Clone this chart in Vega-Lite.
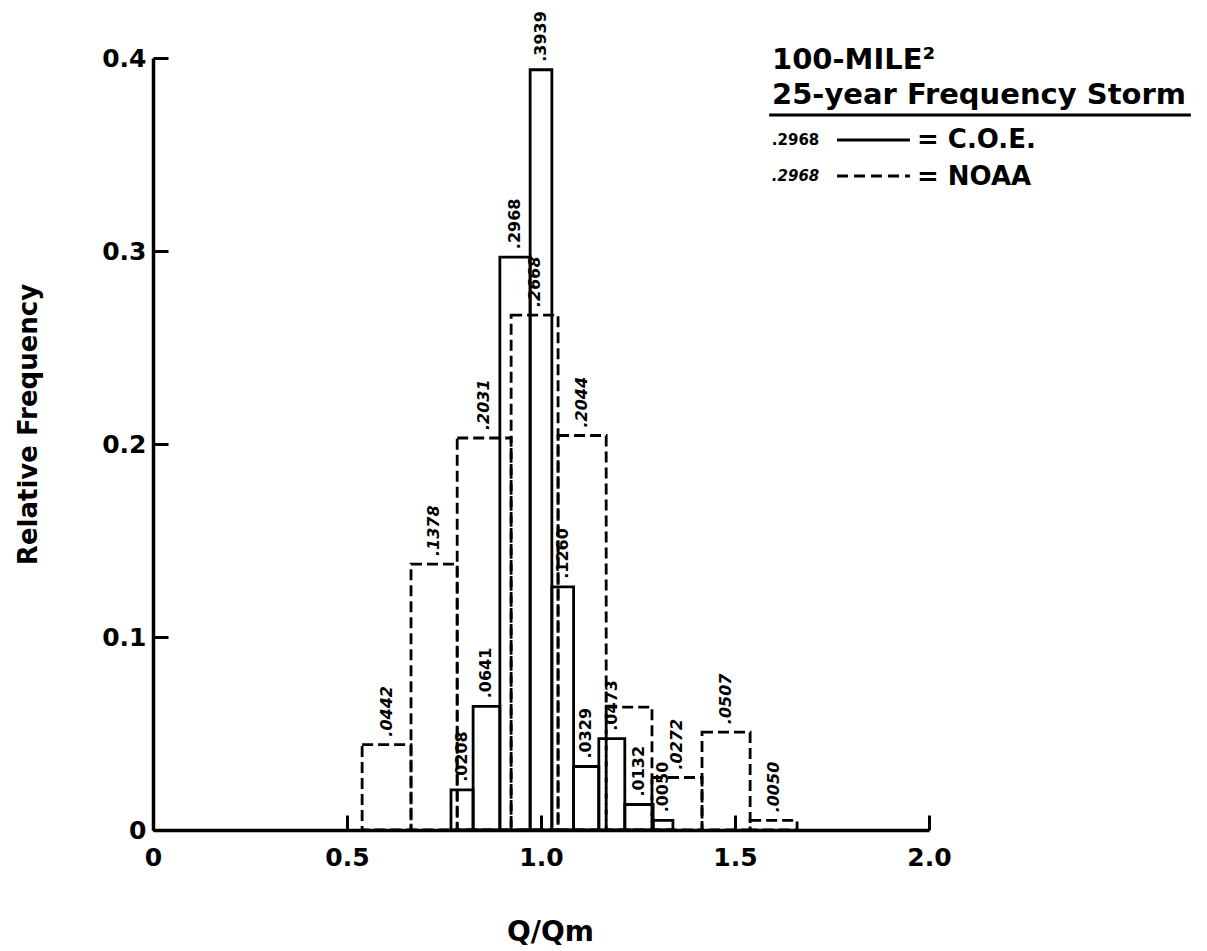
{
  "$schema": "https://vega.github.io/schema/vega-lite/v6.json",
  "width": 776,
  "height": 772,
  "autosize": {"type": "none"},
  "padding": {"left": 153, "top": 58, "right": 278, "bottom": 121},
  "background": "white",
  "config": {"view": {"stroke": null}, "font": "DejaVu Sans"},
  "datasets": {
    "hist": [
      {"series": "NOAA", "lo": 0.539, "hi": 0.665, "value": 0.0442, "label": ".0442"},
      {"series": "NOAA", "lo": 0.665, "hi": 0.784, "value": 0.1378, "label": ".1378"},
      {"series": "NOAA", "lo": 0.784, "hi": 0.923, "value": 0.2031, "label": ".2031"},
      {"series": "NOAA", "lo": 0.923, "hi": 1.044, "value": 0.2668, "label": ".2668"},
      {"series": "NOAA", "lo": 1.044, "hi": 1.168, "value": 0.2044, "label": ".2044"},
      {"series": "NOAA", "lo": 1.168, "hi": 1.286, "value": 0.0637, "label": ""},
      {"series": "NOAA", "lo": 1.286, "hi": 1.415, "value": 0.0272, "label": ".0272"},
      {"series": "NOAA", "lo": 1.415, "hi": 1.539, "value": 0.0507, "label": ".0507"},
      {"series": "NOAA", "lo": 1.539, "hi": 1.66, "value": 0.005, "label": ".0050"},
      {"series": "C.O.E.", "lo": 0.768, "hi": 0.825, "value": 0.0208, "label": ".0208"},
      {"series": "C.O.E.", "lo": 0.825, "hi": 0.894, "value": 0.0641, "label": ".0641"},
      {"series": "C.O.E.", "lo": 0.894, "hi": 0.972, "value": 0.2968, "label": ".2968"},
      {"series": "C.O.E.", "lo": 0.972, "hi": 1.028, "value": 0.3939, "label": ".3939"},
      {"series": "C.O.E.", "lo": 1.028, "hi": 1.084, "value": 0.126, "label": ".1260"},
      {"series": "C.O.E.", "lo": 1.084, "hi": 1.149, "value": 0.0329, "label": ".0329"},
      {"series": "C.O.E.", "lo": 1.149, "hi": 1.216, "value": 0.0473, "label": ".0473"},
      {"series": "C.O.E.", "lo": 1.216, "hi": 1.289, "value": 0.0132, "label": ".0132"},
      {"series": "C.O.E.", "lo": 1.289, "hi": 1.34, "value": 0.005, "label": ".0050"}
    ]
  },
  "layer": [
    {
      "data": {"name": "hist"},
      "mark": {"type": "bar", "fillOpacity": 0, "stroke": "black", "strokeWidth": 2.8},
      "encoding": {
        "x": {
          "field": "lo", "type": "quantitative",
          "scale": {"domain": [0, 2], "nice": false, "zero": false},
          "axis": {
            "values": [0, 0.5, 1, 1.5, 2],
            "title": "Q/Qm",
            "grid": false,
            "domainColor": "black", "domainWidth": 3.5,
            "tickColor": "black", "tickWidth": 3, "tickSize": -15,
            "labelPadding": 30,
            "labelFont": "DejaVu Sans", "labelFontSize": 25, "labelFontWeight": "bold", "labelColor": "black",
            "labelExpr": "datum.value === 0 ? '0' : format(datum.value, '.1f')",
            "labelFlush": false, "labelOverlap": false,
            "titleFont": "DejaVu Sans", "titleFontSize": 28, "titleFontWeight": "bold", "titleColor": "black",
            "titleX": 397, "titleY": 110, "titleBaseline": "alphabetic"
          }
        },
        "x2": {"field": "hi"},
        "y": {
          "field": "value", "type": "quantitative",
          "scale": {"domain": [0, 0.4], "nice": false},
          "axis": {
            "values": [0, 0.1, 0.2, 0.3, 0.4],
            "title": "Relative Frequency",
            "grid": false,
            "domainColor": "black", "domainWidth": 3.5,
            "tickColor": "black", "tickWidth": 3, "tickSize": -15,
            "labelPadding": 22,
            "labelFont": "DejaVu Sans", "labelFontSize": 25, "labelFontWeight": "bold", "labelColor": "black",
            "labelExpr": "datum.value === 0 ? '0' : format(datum.value, '.1f')",
            "labelFlush": false, "labelOverlap": false,
            "titleFont": "DejaVu Sans", "titleFontSize": 26, "titleFontWeight": "bold", "titleColor": "black",
            "titleX": -112, "titleY": 366
          }
        },
        "y2": {"datum": 0},
        "strokeDash": {
          "field": "series", "type": "nominal",
          "scale": {"domain": ["C.O.E.", "NOAA"], "range": [[1, 0], [11, 5]]},
          "legend": {
            "orient": "none", "legendX": 619, "legendY": -12,
            "padding": 0,
            "title": ["100-MILE²", "25-year Frequency Storm"],
            "titleFont": "DejaVu Sans", "titleFontSize": 29, "titleFontWeight": "bold", "titleColor": "black",
            "titleLineHeight": 35, "titlePadding": 16, "titleLimit": 700,
            "symbolType": "M-3,0H3", "symbolSize": 576,
            "symbolStrokeWidth": 3, "symbolStrokeColor": "black", "symbolFillColor": "transparent",
            "symbolOffset": 88, "labelOffset": 30,
            "labelFont": "DejaVu Sans", "labelFontSize": 26, "labelFontWeight": "bold", "labelColor": "black",
            "labelExpr": "'= ' + datum.label", "labelLimit": 400,
            "rowPadding": 10
          }
        }
      }
    },
    {
      "data": {"name": "hist"},
      "transform": [
        {"filter": "datum.series === 'C.O.E.'"},
        {"calculate": "(datum.lo + datum.hi) / 2", "as": "mid"}
      ],
      "mark": {"type": "text", "angle": 270, "align": "left", "baseline": "middle", "dx": 8, "font": "DejaVu Sans", "fontSize": 16, "fontWeight": "bold", "color": "black"},
      "encoding": {
        "x": {"field": "mid", "type": "quantitative"},
        "y": {"field": "value", "type": "quantitative"},
        "text": {"field": "label"}
      }
    },
    {
      "data": {"name": "hist"},
      "transform": [
        {"filter": "datum.series === 'NOAA'"},
        {"calculate": "(datum.lo + datum.hi) / 2", "as": "mid"}
      ],
      "mark": {"type": "text", "angle": 270, "align": "left", "baseline": "middle", "dx": 8, "font": "DejaVu Sans", "fontSize": 16, "fontWeight": "bold", "fontStyle": "italic", "color": "black"},
      "encoding": {
        "x": {"field": "mid", "type": "quantitative"},
        "y": {"field": "value", "type": "quantitative"},
        "text": {"field": "label"}
      }
    },
    {
      "data": {"values": [{"sample": ".2968"}]},
      "mark": {"type": "text", "align": "left", "baseline": "middle", "font": "DejaVu Sans", "fontSize": 15, "fontWeight": "bold", "color": "black"},
      "encoding": {
        "x": {"datum": 1.595},
        "y": {"datum": 0.3575},
        "text": {"field": "sample"}
      }
    },
    {
      "data": {"values": [{"sample": ".2968"}]},
      "mark": {"type": "text", "align": "left", "baseline": "middle", "font": "DejaVu Sans", "fontSize": 15, "fontWeight": "bold", "fontStyle": "italic", "color": "black"},
      "encoding": {
        "x": {"datum": 1.595},
        "y": {"datum": 0.3389},
        "text": {"field": "sample"}
      }
    },
    {
      "data": {"values": [{}]},
      "mark": {"type": "rule", "strokeWidth": 3, "color": "black"},
      "encoding": {
        "x": {"datum": 1.763},
        "x2": {"datum": 1.951},
        "y": {"datum": 0.3575}
      }
    },
    {
      "data": {"values": [{}]},
      "mark": {"type": "rule", "strokeWidth": 3, "color": "black", "strokeDash": [11, 6]},
      "encoding": {
        "x": {"datum": 1.763},
        "x2": {"datum": 1.951},
        "y": {"datum": 0.3389}
      }
    },
    {
      "data": {"values": [{}]},
      "mark": {"type": "rule", "strokeWidth": 3, "color": "black"},
      "encoding": {
        "x": {"datum": 1.588},
        "x2": {"datum": 2.675},
        "y": {"datum": 0.3705}
      }
    }
  ]
}
